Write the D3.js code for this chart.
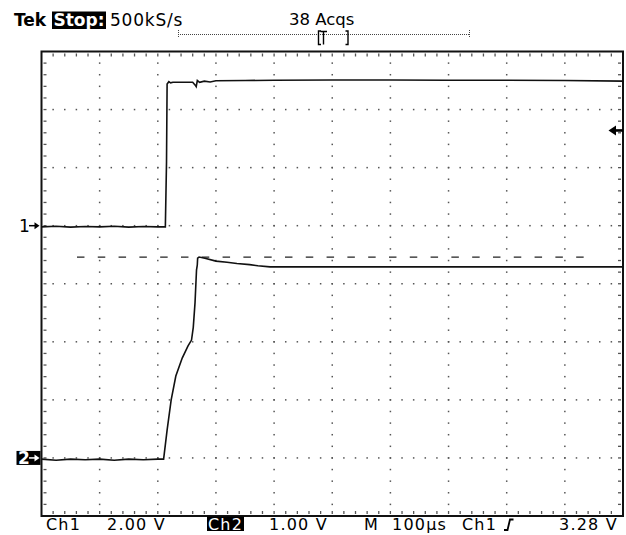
<!DOCTYPE html>
<html>
<head>
<meta charset="utf-8">
<script src="https://cdn.jsdelivr.net/npm/d3@7"></script>
<style>
  html, body { margin: 0; padding: 0; background: #fff; }
  svg { display: block; }
</style>
</head>
<body>
<script>
// scope settings
var timePerDiv = 100      // µs
var ch1PerDiv = 2.0       // V
var ch2PerDiv = 1.0       // V
var ch1Ground = 1         // divisions above centre
var ch2Ground = -3
var triggerLevel = 3.28   // V on ch1
var refLevel = 3.46       // dashed line, ch2 volts
var refStart = 61, refEnd = 943

// ch1 trace (µs from left edge, volts)
var ch1Time = [0, 25, 50, 75, 100, 125, 150, 175, 200, 213, 215, 216, 219, 222, 226, 240, 260, 264, 266, 268, 272, 280, 290, 300, 350, 400, 500, 600, 700, 800, 900, 1000]
var ch1Volts = [-0.04, -0.02, -0.05, -0.03, -0.04, -0.02, -0.05, -0.03, -0.04, -0.04, 2.2, 4.88, 4.96, 4.92, 4.94, 4.94, 4.94, 4.85, 4.79, 5.0, 4.94, 4.98, 4.95, 4.99, 5.0, 5.01, 5.02, 5.02, 5.01, 5.01, 5.0, 4.98]

// ch2 trace
var ch2Time = [0, 25, 50, 75, 100, 125, 150, 175, 200, 210, 216, 223, 231, 242, 252, 258, 261, 264, 266.6, 267.9, 268.5, 271, 281, 300, 319, 336, 358, 372, 393, 500, 600, 700, 800, 900, 1000]
var ch2Volts = [-0.02, -0.04, -0.02, -0.03, -0.02, -0.04, -0.02, -0.03, -0.02, -0.02, 0.48, 1.0, 1.41, 1.72, 1.93, 2.03, 2.25, 2.67, 3.24, 3.32, 3.44, 3.46, 3.44, 3.39, 3.37, 3.35, 3.33, 3.31, 3.29, 3.29, 3.29, 3.29, 3.29, 3.29, 3.29]

var gridCols = 10, gridRows = 8, minorPerDiv = 5

var W = 626, H = 535
var pL = 41.5, pR = 623, pT = 51.5, pB = 516

var svg = d3.select("body").append("svg")
    .attr("width", W)
    .attr("height", H)
    .style("font-family", "'DejaVu Sans', sans-serif")

var x = d3.scaleLinear().domain([0, timePerDiv * gridCols]).range([pL, pR])
var y1 = d3.scaleLinear()
    .domain([(-gridRows / 2 - ch1Ground) * ch1PerDiv, (gridRows / 2 - ch1Ground) * ch1PerDiv])
    .range([pB, pT])
var y2 = d3.scaleLinear()
    .domain([(-gridRows / 2 - ch2Ground) * ch2PerDiv, (gridRows / 2 - ch2Ground) * ch2PerDiv])
    .range([pB, pT])

// graticule dots
var grid = svg.append("g").attr("fill", "#555")
var colW = (pR - pL) / gridCols, rowH = (pB - pT) / gridRows
for (var i = 1; i < gridCols; i++) {
    for (var k = 1; k < gridRows * minorPerDiv; k++) {
        grid.append("rect").attr("x", pL + i * colW - 0.75).attr("y", pT + k * rowH / minorPerDiv - 0.75)
            .attr("width", 1.5).attr("height", 1.5)
    }
}
for (var j = 1; j < gridRows; j++) {
    for (var k = 1; k < gridCols * minorPerDiv; k++) {
        grid.append("rect").attr("x", pL + k * colW / minorPerDiv - 0.75).attr("y", pT + j * rowH - 0.75)
            .attr("width", 1.5).attr("height", 1.5)
    }
}
// border ticks
var ticks = svg.append("g").attr("stroke", "#555").attr("stroke-width", 1.3)
for (var k = 1; k < gridCols * minorPerDiv; k++) {
    var tx = pL + k * colW / minorPerDiv
    ticks.append("line").attr("x1", tx).attr("x2", tx).attr("y1", pT + 2).attr("y2", pT + 5)
    ticks.append("line").attr("x1", tx).attr("x2", tx).attr("y1", pB - 2).attr("y2", pB - 5)
}
for (var k = 1; k < gridRows * minorPerDiv; k++) {
    var ty = pT + k * rowH / minorPerDiv
    ticks.append("line").attr("x1", pL + 2).attr("x2", pL + 5).attr("y1", ty).attr("y2", ty)
    ticks.append("line").attr("x1", pR - 2).attr("x2", pR - 5).attr("y1", ty).attr("y2", ty)
}

// frame
svg.append("rect").attr("x", pL).attr("y", pT)
    .attr("width", pR - pL).attr("height", pB - pT)
    .attr("fill", "none").attr("stroke", "#111").attr("stroke-width", 2)

// dashed reference
svg.append("line")
    .attr("x1", x(refStart)).attr("x2", x(refEnd))
    .attr("y1", y2(refLevel)).attr("y2", y2(refLevel))
    .attr("stroke", "#222").attr("stroke-width", 1.3)
    .attr("stroke-dasharray", "7.5,13.3")

// traces
var ch1 = ch1Time.map(function (t, i) { return [t, ch1Volts[i]] })
var ch2 = ch2Time.map(function (t, i) { return [t, ch2Volts[i]] })
svg.append("path").datum(ch1)
    .attr("d", d3.line().x(function (d) { return x(d[0]) }).y(function (d) { return y1(d[1]) }))
    .attr("fill", "none").attr("stroke", "#111").attr("stroke-width", 1.6)
svg.append("path").datum(ch2)
    .attr("d", d3.line().x(function (d) { return x(d[0]) }).y(function (d) { return y2(d[1]) }))
    .attr("fill", "none").attr("stroke", "#111").attr("stroke-width", 1.6)

// ground markers
var g1 = y1(0), g2 = y2(0)
svg.append("text").text("1").attr("x", 19).attr("y", g1 + 6)
    .attr("font-size", 17).attr("fill", "#000")
svg.append("path").attr("d", "M29," + g1 + "H36").attr("stroke", "#000").attr("stroke-width", 1.5)
svg.append("path").attr("d", "M34.5," + (g1 - 3.5) + "L39.5," + g1 + "L34.5," + (g1 + 3.5) + "Z").attr("fill", "#000")

svg.append("rect").attr("x", 16.5).attr("y", g2 - 7).attr("width", 24).attr("height", 14).attr("fill", "#000")
svg.append("text").text("2").attr("x", 18).attr("y", g2 + 6)
    .attr("font-size", 17).attr("font-weight", "bold").attr("fill", "#fff")
svg.append("path").attr("d", "M29," + g2 + "H36").attr("stroke", "#fff").attr("stroke-width", 1.5)
svg.append("path").attr("d", "M34.5," + (g2 - 3.5) + "L39.5," + g2 + "L34.5," + (g2 + 3.5) + "Z").attr("fill", "#fff")

// trigger level marker
var tl = y1(triggerLevel)
svg.append("path").attr("d", "M608.5," + tl + "L616," + (tl - 5) + "V" + (tl + 5) + "Z").attr("fill", "#000")
svg.append("rect").attr("x", 615).attr("y", tl - 1.3).attr("width", 8).attr("height", 2.6).attr("fill", "#000")

// header
svg.append("text").text("Tek").attr("x", 14).attr("y", 26)
    .attr("font-size", 17).attr("font-weight", "bold").attr("fill", "#000")
svg.append("rect").attr("x", 52).attr("y", 11.5).attr("width", 54).attr("height", 17.5).attr("fill", "#000")
svg.append("text").text("Stop:").attr("x", 53.5).attr("y", 26)
    .attr("font-size", 17).attr("font-weight", "bold").attr("fill", "#fff")
svg.append("text").text("500kS/s").attr("x", 110).attr("y", 26)
    .attr("font-size", 17).attr("letter-spacing", 0.8).attr("fill", "#000")
svg.append("text").text("38 Acqs").attr("x", 289).attr("y", 25)
    .attr("font-size", 16.5).attr("fill", "#000")

// record bar
var bar = svg.append("g").attr("stroke", "#444").attr("stroke-width", 1).attr("fill", "none")
bar.append("line").attr("x1", 178).attr("x2", 470).attr("y1", 34.5).attr("y2", 34.5).attr("stroke-dasharray", "1,1")
bar.append("line").attr("x1", 178.5).attr("x2", 178.5).attr("y1", 30).attr("y2", 38).attr("stroke-dasharray", "1,1")
bar.append("line").attr("x1", 469.5).attr("x2", 469.5).attr("y1", 30).attr("y2", 38).attr("stroke-dasharray", "1,1")
var br = svg.append("g").attr("stroke", "#000").attr("stroke-width", 1.4).attr("fill", "none")
br.append("path").attr("d", "M321,31H318.5V44.5H321")
br.append("path").attr("d", "M320.5,31.5H327M323.5,31.5V44.5")
br.append("path").attr("d", "M345.5,31H348V44.5H345.5")

// footer
var footY = 530
svg.append("text").text("Ch1").attr("x", 46).attr("y", footY)
    .attr("font-size", 16).attr("letter-spacing", 1.2).attr("fill", "#000")
svg.append("text").text("2.00 V").attr("x", 107).attr("y", footY)
    .attr("font-size", 16).attr("letter-spacing", 1.2).attr("fill", "#000")
svg.append("rect").attr("x", 207).attr("y", 516.5).attr("width", 37).attr("height", 14.5).attr("fill", "#000")
svg.append("text").text("Ch2").attr("x", 208).attr("y", footY)
    .attr("font-size", 16).attr("letter-spacing", 1.2).attr("fill", "#fff")
svg.append("text").text("1.00 V").attr("x", 269).attr("y", footY)
    .attr("font-size", 16).attr("letter-spacing", 1.2).attr("fill", "#000")
svg.append("text").text("M").attr("x", 364).attr("y", footY)
    .attr("font-size", 16).attr("fill", "#000")
svg.append("text").text("100µs").attr("x", 392).attr("y", footY)
    .attr("font-size", 16).attr("letter-spacing", 1.2).attr("fill", "#000")
svg.append("text").text("Ch1").attr("x", 462).attr("y", footY)
    .attr("font-size", 16).attr("letter-spacing", 1.2).attr("fill", "#000")
svg.append("path").attr("d", "M504,530H507.5L510,519.5H513.5")
    .attr("stroke", "#000").attr("stroke-width", 1.8).attr("fill", "none")
svg.append("text").text("3.28 V").attr("x", 559).attr("y", footY)
    .attr("font-size", 16).attr("letter-spacing", 1.2).attr("fill", "#000")
</script>
</body>
</html>
